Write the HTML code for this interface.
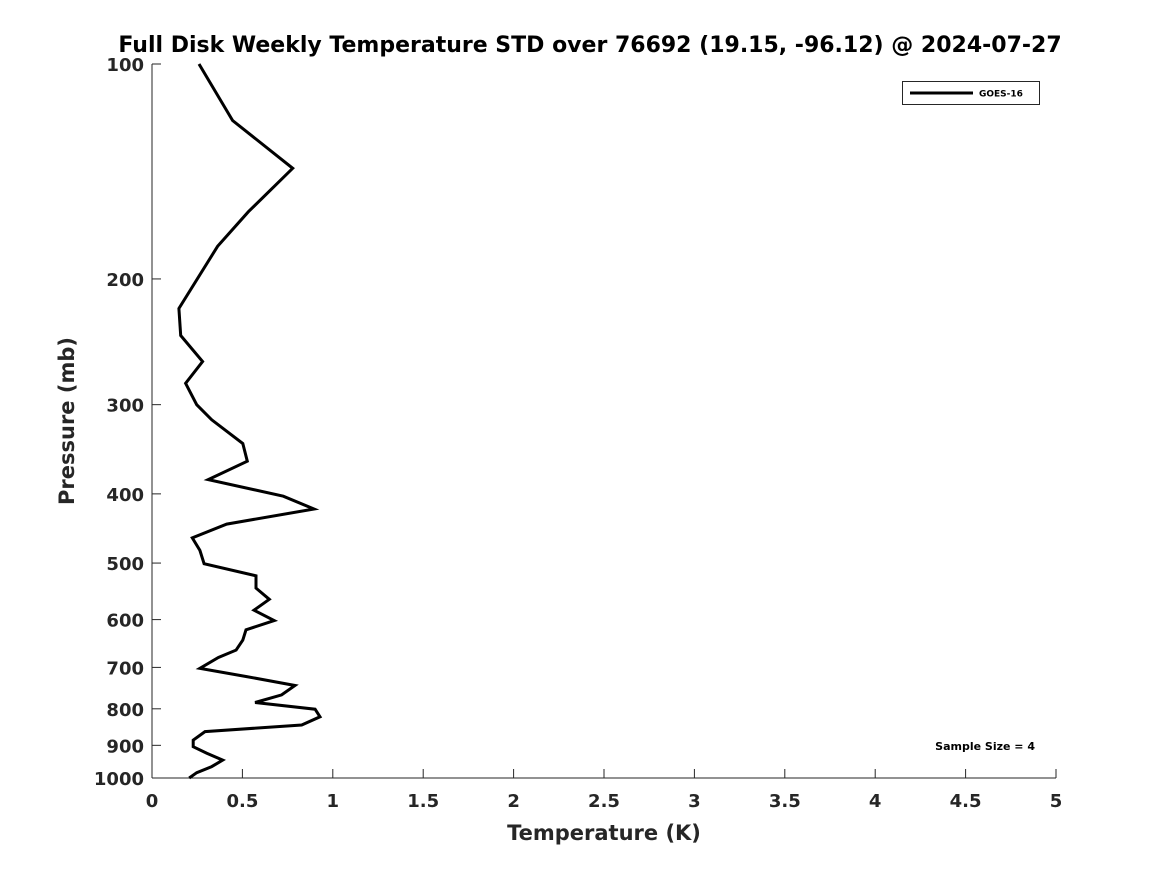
<!DOCTYPE html>
<html><head><meta charset="utf-8"><style>
html,body{margin:0;padding:0;background:#fff;}
svg text{font-family:"DejaVu Sans","Liberation Sans",sans-serif;font-weight:bold;fill:#262626;}
</style></head><body>
<svg id="chart" width="1167" height="875" viewBox="0 0 1167 875" xmlns="http://www.w3.org/2000/svg">
<rect width="1167" height="875" fill="#fff"/>
<text x="590" y="52" text-anchor="middle" font-size="22" style="fill:#000">Full Disk Weekly Temperature STD over 76692 (19.15, -96.12) @ 2024-07-27</text>
<g id="axes"></g>
<text x="604" y="840" text-anchor="middle" font-size="21">Temperature (K)</text>
<text x="0" y="0" transform="translate(74,421) rotate(-90)" text-anchor="middle" font-size="21">Pressure (mb)</text>
<g>
<rect x="902.5" y="81.5" width="137" height="23" fill="#fff" stroke="#262626" stroke-width="1"/>
<line x1="910" y1="93" x2="973" y2="93" stroke="#000" stroke-width="3"/>
<text x="979" y="96.5" font-size="9" style="fill:#000">GOES-16</text>
</g>
<text x="1035" y="750" text-anchor="end" font-size="11" style="fill:#000">Sample Size = 4</text>
</svg>
<script>
const temps = [0.26,0.446,0.778,0.533,0.363,0.149,0.159,0.280,0.186,0.247,0.330,0.502,0.527,0.311,0.726,0.896,0.413,0.223,0.265,0.288,0.575,0.575,0.649,0.564,0.676,0.520,0.502,0.465,0.367,0.265,0.524,0.791,0.717,0.570,0.902,0.929,0.828,0.293,0.228,0.228,0.303,0.391,0.330,0.247,0.206];
const pressures = [100,120,140,161,180,220,240,261,280,300,315,340,360,382,403,420,441,461,480,501,521,542,562,582,602,620,641,662,678,702,721,742,765,784,801,821,843,861,885,904,923,944,964,983,1000];
const xTicks = [0,0.5,1,1.5,2,2.5,3,3.5,4,4.5,5];
const xTickLabels = ["0","0.5","1","1.5","2","2.5","3","3.5","4","4.5","5"];
const yTicks = [100,200,300,400,500,600,700,800,900,1000];
const yTickLabels = ["100","200","300","400","500","600","700","800","900","1000"];

const X0=152,X1=1056,Y0=64,Y1=778;
const xScale=t=>X0+(t-0)/(5-0)*(X1-X0);
const yScale=p=>Y0+(Math.log10(p)-2)/1*(Y1-Y0);
const NS="http://www.w3.org/2000/svg";
const g=document.getElementById('axes');
function mk(tag,attrs){const e=document.createElementNS(NS,tag);for(const k in attrs)e.setAttribute(k,attrs[k]);return e;}

const yAxis=mk('line',{x1:X0,y1:Y0,x2:X0,y2:Y1,stroke:'#262626','stroke-width':1});


g.appendChild(yAxis);
const xAxis=mk('line',{x1:X0,y1:Y1,x2:X1,y2:Y1,stroke:'#262626','stroke-width':1});


g.appendChild(xAxis);

xTicks.forEach((t,i)=>{
  const x=xScale(t);
  const tk=mk('line',{x1:x,y1:Y1,x2:x,y2:Y1-9,stroke:'#262626','stroke-width':1});
  
  
  g.appendChild(tk);
  const tx=mk('text',{x:x,y:Y1+29,'text-anchor':'middle','font-size':18});
  
  
  tx.textContent=xTickLabels[i];
  g.appendChild(tx);
});
yTicks.forEach((p,i)=>{
  const y=yScale(p);
  const tk=mk('line',{x1:X0,y1:y,x2:X0+9,y2:y,stroke:'#262626','stroke-width':1});
  
  
  g.appendChild(tk);
  const tx=mk('text',{x:X0-8,y:y+7,'text-anchor':'end','font-size':18});
  
  
  tx.textContent=yTickLabels[i];
  g.appendChild(tx);
});
const pts=temps.map((t,i)=>xScale(t).toFixed(1)+','+yScale(pressures[i]).toFixed(1)).join(' ');
const line=mk('polyline',{points:pts,fill:'none',stroke:'#000','stroke-width':3,'stroke-linejoin':'miter'});


g.appendChild(line);
</script>
</body></html>
